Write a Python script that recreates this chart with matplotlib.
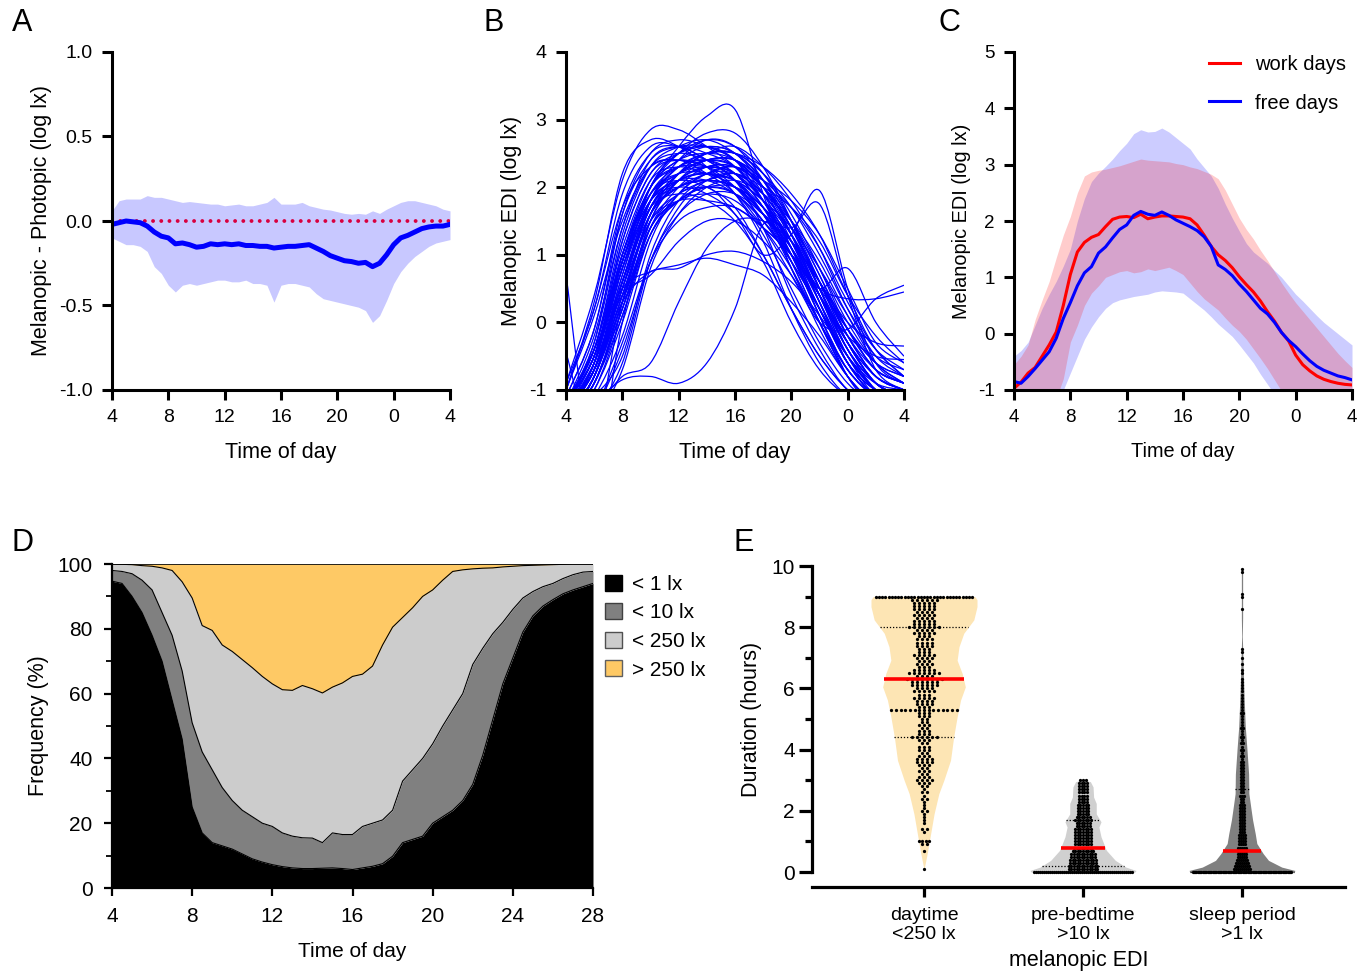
import numpy as np
import matplotlib
matplotlib.use('Agg')
import matplotlib.pyplot as plt
from matplotlib.path import Path
from matplotlib.patches import PathPatch, Patch
from matplotlib.lines import Line2D
from matplotlib import font_manager as fm
from matplotlib.ticker import FixedLocator


def has_font(name):
    try:
        fm.findfont(fm.FontProperties(family=name), fallback_to_default=False)
        return True
    except Exception:
        return False


MAIN = 'Liberation Sans' if has_font('Liberation Sans') else 'DejaVu Sans'
NARROW = 'Liberation Sans Narrow' if has_font('Liberation Sans Narrow') else MAIN
plt.rcParams['font.family'] = [MAIN, 'DejaVu Sans']

# ---------------- DATA ----------------
# Panel A: melanopic - photopic difference (log lx), every 30 min from 4 h to 28 h
A_mean = [-0.02, -0.01, 0.0, -0.005, -0.01, -0.03, -0.065, -0.09, -0.10, -0.135, -0.13, -0.14, -0.155,
          -0.15, -0.135, -0.14, -0.135, -0.14, -0.135, -0.145, -0.145, -0.15, -0.15, -0.16, -0.155, -0.15,
          -0.15, -0.145, -0.14, -0.16, -0.18, -0.205, -0.22, -0.235, -0.24, -0.25, -0.245, -0.27, -0.25,
          -0.2, -0.14, -0.1, -0.085, -0.065, -0.045, -0.035, -0.03, -0.03, -0.02]
A_upper = [0.06, 0.12, 0.13, 0.13, 0.13, 0.15, 0.14, 0.14, 0.13, 0.12, 0.11, 0.115, 0.11, 0.105, 0.10,
           0.10, 0.09, 0.095, 0.10, 0.09, 0.09, 0.10, 0.11, 0.14, 0.10, 0.10, 0.10, 0.11, 0.09, 0.08, 0.07,
           0.065, 0.055, 0.045, 0.04, 0.045, 0.04, 0.06, 0.045, 0.07, 0.09, 0.11, 0.12, 0.12, 0.11, 0.10,
           0.09, 0.07, 0.06]
A_lower = [-0.10, -0.12, -0.14, -0.14, -0.15, -0.18, -0.27, -0.31, -0.38, -0.42, -0.38, -0.37, -0.38,
           -0.37, -0.36, -0.35, -0.35, -0.36, -0.36, -0.35, -0.37, -0.37, -0.38, -0.48, -0.38, -0.37, -0.37,
           -0.38, -0.39, -0.43, -0.46, -0.47, -0.48, -0.49, -0.50, -0.51, -0.53, -0.60, -0.56, -0.47, -0.37,
           -0.30, -0.25, -0.21, -0.18, -0.15, -0.13, -0.12, -0.11]

# Panel B: individual profiles (log lx), knots every 2 h
B_hours = [4, 6, 8, 10, 12, 14, 16, 18, 20, 22, 24, 26, 28]
B_profiles = [
    [-1.3, -0.6, 1.2, 2.2, 2.5, 2.6, 2.5, 2.0, 1.2, 0.3, -0.6, -1.1, -1.3],
    [-1.2, -0.3, 1.6, 2.5, 2.7, 2.6, 2.4, 1.9, 1.1, 0.1, -0.7, -1.1, -1.2],
    [-1.4, -0.8, 0.6, 1.8, 2.2, 2.3, 2.2, 1.8, 1.2, 0.4, -0.4, -0.9, -1.1],
    [-0.9, 0.2, 1.9, 2.6, 2.6, 2.4, 2.1, 1.4, 0.4, -0.4, -1.0, -1.2, -1.3],
    [-1.5, -1.1, -0.5, 1.0, 1.8, 2.1, 2.1, 1.6, 0.8, -0.1, -0.8, -1.2, -1.4],
    [-1.2, -0.5, 1.0, 2.0, 2.4, 2.5, 2.4, 2.0, 1.4, 0.6, -0.2, -0.8, -1.0],
    [-1.3, -0.7, 0.8, 1.9, 2.3, 2.4, 2.3, 1.9, 1.3, 0.5, -0.3, -0.9, -1.1],
    [-1.2, -0.4, 1.3, 2.3, 2.6, 2.7, 2.5, 2.1, 1.5, 0.7, -0.1, -0.7, -0.9],
    [-1.4, -0.9, 0.3, 1.6, 2.1, 2.3, 2.3, 2.0, 1.5, 0.8, 0.0, -0.6, -0.9],
    [-1.3, -0.7, 0.5, 1.7, 2.0, 2.1, 2.0, 1.6, 1.0, 0.2, -0.6, -1.1, -1.3],
    [-1.0, 0.3, 2.2, 2.7, 2.6, 2.3, 1.9, 1.2, 0.2, -0.6, -1.1, -1.3, -1.4],
    [-1.2, -0.5, 0.9, 1.9, 2.1, 2.0, 1.7, 1.0, 0.2, -0.5, -1.0, -1.3, -1.4],
    [-1.3, -0.7, 0.7, 2.0, 2.5, 2.6, 2.4, 1.8, 1.0, 0.1, -0.8, -1.3, -1.5],
    [-1.6, -1.1, -0.2, 1.2, 1.9, 2.2, 2.2, 1.9, 1.3, 0.5, -0.3, -0.9, -1.1],
    [-1.4, -0.9, 0.2, 1.4, 1.8, 1.9, 1.8, 1.4, 0.8, 0.0, -0.7, -1.1, -1.2],
    [-1.2, -0.4, 1.1, 2.1, 2.3, 2.2, 2.1, 1.8, 1.3, 0.6, -0.1, -0.6, -0.8],
    [-1.3, -0.6, 1.0, 2.1, 2.5, 2.7, 2.6, 2.2, 1.5, 0.6, -0.3, -0.9, -1.1],
    [-1.5, -1.0, 0.0, 1.3, 1.8, 2.0, 2.0, 1.7, 1.2, 0.4, -0.4, -1.0, -1.2],
    [-1.0, 0.1, 1.5, 2.3, 2.4, 2.3, 2.1, 1.6, 0.9, 0.0, -0.8, -1.2, -1.3],
    [-1.3, -0.7, 0.6, 1.7, 2.2, 2.4, 2.4, 2.1, 1.7, 1.1, 0.3, -0.4, -0.8],
    [-1.4, -0.8, 0.4, 1.6, 2.2, 2.5, 2.5, 2.2, 1.6, 0.8, -0.1, -0.7, -0.9],
    [-1.2, -0.5, 0.9, 1.8, 2.0, 1.9, 1.6, 1.0, 0.2, -0.5, -1.0, -1.3, -1.4],
    [-1.3, -0.6, 0.8, 1.8, 2.3, 2.5, 2.5, 2.3, 1.9, 1.3, 0.4, -0.4, -0.8],
    [-1.5, -0.9, 0.2, 1.5, 2.1, 2.4, 2.4, 2.1, 1.5, 0.7, -0.2, -0.8, -1.0],
    [-1.2, -0.3, 1.4, 2.4, 2.6, 2.5, 2.3, 1.8, 1.2, 0.3, -0.5, -1.0, -1.1],
    [-1.3, -0.7, 0.5, 1.5, 1.8, 1.8, 1.7, 1.4, 1.0, 0.4, -0.3, -0.8, -1.0],
    [-1.4, -0.8, 0.4, 1.5, 1.9, 2.1, 2.2, 2.0, 1.7, 1.2, 0.4, -0.2, -0.6],
    [-1.3, -0.6, 0.9, 2.0, 2.3, 2.3, 2.2, 1.7, 1.0, 0.2, -0.6, -1.0, -1.1],
    [-1.7, -1.3, -0.4, 0.9, 1.7, 2.1, 2.2, 1.9, 1.3, 0.4, -0.5, -1.1, -1.3],
    [-1.4, -0.9, 0.1, 1.3, 1.9, 2.2, 2.3, 2.0, 1.4, 0.6, -0.2, -0.8, -1.0],
    [-1.2, -0.4, 1.2, 2.2, 2.4, 2.3, 2.0, 1.5, 0.9, 0.2, -0.5, -0.9, -1.0],
    [-1.3, -0.7, 0.6, 1.6, 2.0, 2.2, 2.3, 2.1, 1.8, 1.3, 0.5, -0.3, -0.6],
    [-1.6, -1.3, -0.6, 0.9, 1.6, 1.9, 1.9, 1.6, 1.1, 0.4, -0.3, -0.9, -1.1],
    [-1.2, -0.5, 1.0, 1.9, 2.2, 2.4, 2.4, 2.0, 1.3, 0.4, -0.5, -1.0, -1.2],
    [-1.3, -0.7, 0.7, 1.8, 2.1, 2.2, 2.1, 1.8, 1.4, 0.8, 0.1, -0.5, -0.7],
    [-1.4, -0.8, 0.3, 1.4, 1.9, 2.0, 1.9, 1.5, 0.9, 0.2, -0.5, -1.0, -1.2],
    [-1.1, -0.1, 1.7, 2.5, 2.6, 2.4, 2.1, 1.6, 1.1, 0.4, -0.3, -0.8, -1.0],
    [-1.3, -0.6, 0.8, 1.7, 1.9, 1.8, 1.5, 0.9, 0.0, -0.7, -1.1, -1.3, -1.4],
    [-1.4, -0.8, 0.5, 1.8, 2.4, 2.7, 2.6, 2.1, 1.3, 0.3, -0.6, -1.1, -1.3],
    [-1.7, -1.3, -0.3, 0.9, 1.5, 1.7, 1.7, 1.4, 1.0, 0.5, -0.1, -0.6, -0.8],
    [-1.2, -0.5, 1.0, 2.0, 2.6, 3.05, 3.15, 1.9, 0.8, 0.0, -0.8, -1.2, -1.4],
    [-0.9, 0.4, 2.1, 2.85, 2.85, 2.6, 2.3, 1.8, 1.1, 0.2, -0.6, -1.0, -1.1],
    [-1.3, -0.6, 0.9, 2.0, 2.5, 2.8, 2.8, 2.3, 1.5, 0.5, -0.4, -0.9, -1.1],
    [0.7, -2.0, 0.0, 1.5, 2.1, 2.3, 2.2, 1.8, 1.1, 0.3, -0.5, -1.0, -1.2],
    [-1.6, -1.2, -0.85, -0.8, -0.9, -0.6, 0.2, 1.45, 1.2, 0.4, -0.4, -0.9, -1.1],
    [-1.7, -1.3, -0.8, -0.6, 0.3, 1.1, 1.5, 1.5, 1.2, 0.6, -0.1, -0.7, -0.9],
    [-1.3, -0.7, 0.3, 0.75, 0.8, 1.0, 1.05, 0.9, 0.6, 0.1, -0.5, -1.0, -1.2],
    [-1.2, -0.4, 0.5, 0.75, 0.85, 0.95, 0.85, 0.7, 0.3, -0.2, -0.8, -1.2, -1.3],
    [-1.4, -0.8, 0.3, 1.4, 1.8, 2.0, 1.6, 1.0, 1.3, 1.95, 0.5, -0.6, -0.9],
    [-1.3, -0.7, 0.6, 1.7, 2.1, 2.2, 2.0, 1.6, 1.4, 1.75, 0.4, -0.7, -1.0],
    [-1.3, -0.6, 0.8, 1.9, 2.2, 2.2, 2.0, 1.6, 1.0, 0.5, 0.8, 0.0, -0.5],
    [-1.4, -0.9, 0.2, 1.3, 1.8, 2.0, 1.9, 1.4, 0.7, 0.0, -0.1, 0.35, 0.55],
    [-1.2, -0.5, 0.9, 1.8, 2.1, 2.1, 1.9, 1.5, 1.0, 0.5, 0.35, 0.35, 0.45],
    [-1.3, -0.7, 0.6, 1.7, 2.1, 2.2, 2.1, 1.7, 1.2, 0.6, 0.0, -0.3, -0.35],
    [-1.4, -0.8, 0.4, 1.6, 2.0, 2.1, 2.0, 1.7, 1.1, 0.4, -0.2, -0.5, -0.55],
    [-1.3, -0.6, 0.4, 0.7, 1.2, 1.5, 1.5, 1.2, 0.7, 0.0, -0.7, -1.1, -1.2],
    [-0.45, -1.6, 0.3, 1.6, 2.0, 2.1, 2.0, 1.6, 1.0, 0.2, -0.6, -1.1, -1.2],
    [-1.2, -0.2, 1.4, 2.3, 2.5, 2.4, 2.2, 1.7, 0.9, 0.0, -0.8, -1.2, -1.3],
    [-1.4, -0.9, 0.3, 1.6, 2.2, 2.5, 2.6, 2.3, 1.8, 1.1, 0.2, -0.5, -0.8],
    [-1.3, -0.5, 0.9, 2.0, 2.4, 2.6, 2.5, 2.1, 1.4, 0.5, -0.4, -1.0, -1.2],
    [-1.5, -1.0, 0.1, 1.4, 2.0, 2.3, 2.3, 2.0, 1.4, 0.6, -0.3, -0.9, -1.1],
    [-1.1, -0.1, 1.6, 2.4, 2.6, 2.6, 2.4, 2.0, 1.4, 0.6, -0.2, -0.7, -0.9],
    [-1.3, -0.7, 0.5, 1.7, 2.2, 2.4, 2.3, 1.8, 1.1, 0.2, -0.6, -1.0, -1.2],
    [-1.2, -0.4, 1.0, 2.0, 2.3, 2.5, 2.5, 2.2, 1.7, 1.0, 0.2, -0.4, -0.7],
    [-1.4, -0.8, 0.6, 1.8, 2.3, 2.4, 2.2, 1.7, 1.0, 0.1, -0.7, -1.1, -1.3],
    [-1.0, 0.2, 1.7, 2.3, 2.4, 2.2, 1.9, 1.3, 0.5, -0.3, -0.9, -1.2, -1.3],
    [-1.7, -1.4, -0.7, 0.8, 1.6, 2.0, 2.1, 1.9, 1.5, 0.9, 0.1, -0.6, -0.9],
]

# Panel C: work days vs free days (log lx), every 30 min from 4 h to 28 h
C_work_mean = [-0.97, -0.86, -0.70, -0.60, -0.40, -0.20, 0.03, 0.50, 1.05, 1.45, 1.62, 1.71, 1.76, 1.90,
               2.03, 2.07, 2.08, 2.06, 2.12, 2.04, 2.07, 2.09, 2.09, 2.08, 2.07, 2.04, 1.93, 1.75, 1.55,
               1.40, 1.30, 1.17, 1.01, 0.87, 0.74, 0.58, 0.39, 0.22, 0.02, -0.13, -0.38, -0.55, -0.66,
               -0.75, -0.81, -0.85, -0.88, -0.90, -0.91]
C_free_mean = [-0.85, -0.88, -0.76, -0.62, -0.47, -0.32, -0.08, 0.27, 0.55, 0.85, 1.08, 1.19, 1.43, 1.54,
               1.70, 1.85, 1.93, 2.10, 2.17, 2.12, 2.10, 2.16, 2.10, 2.02, 1.96, 1.90, 1.83, 1.72, 1.55,
               1.22, 1.14, 1.03, 0.88, 0.75, 0.60, 0.45, 0.35, 0.20, 0.02, -0.12, -0.23, -0.36, -0.48,
               -0.58, -0.65, -0.70, -0.75, -0.78, -0.82]
C_work_upper = [-0.55, -0.40, -0.20, 0.25, 0.60, 0.93, 1.35, 1.75, 2.08, 2.50, 2.80, 2.87, 2.90, 2.92,
                2.95, 2.98, 3.02, 3.06, 3.10, 3.08, 3.07, 3.06, 3.05, 3.02, 3.00, 2.96, 2.93, 2.88, 2.83,
                2.75, 2.55, 2.30, 2.05, 1.85, 1.68, 1.48, 1.30, 1.10, 0.90, 0.72, 0.55, 0.40, 0.25, 0.10,
                -0.05, -0.20, -0.35, -0.48, -0.60]
C_work_lower = [-1.6, -1.55, -1.5, -1.45, -1.4, -1.3, -1.15, -0.8, -0.15, 0.15, 0.50, 0.72, 0.85, 1.00,
                1.05, 1.10, 1.12, 1.08, 1.10, 1.15, 1.12, 1.15, 1.18, 1.12, 1.05, 0.90, 0.75, 0.62, 0.52,
                0.42, 0.28, 0.15, 0.04, -0.10, -0.27, -0.44, -0.62, -0.82, -1.02, -1.2, -1.35, -1.45,
                -1.5, -1.5, -1.5, -1.55, -1.55, -1.6, -1.6]
C_free_upper = [-0.40, -0.30, -0.15, 0.15, 0.45, 0.70, 0.93, 1.20, 1.50, 2.00, 2.40, 2.70, 2.85, 2.97,
                3.10, 3.25, 3.38, 3.55, 3.62, 3.58, 3.59, 3.65, 3.58, 3.48, 3.38, 3.28, 3.10, 2.95, 2.80,
                2.58, 2.30, 2.05, 1.82, 1.60, 1.45, 1.35, 1.25, 1.12, 1.00, 0.85, 0.70, 0.58, 0.45, 0.32,
                0.20, 0.10, 0.00, -0.10, -0.20]
C_free_lower = [-1.8, -1.8, -1.75, -1.7, -1.6, -1.5, -1.3, -1.0, -0.7, -0.4, -0.1, 0.12, 0.30, 0.45,
                0.55, 0.60, 0.63, 0.66, 0.68, 0.70, 0.74, 0.76, 0.75, 0.74, 0.72, 0.62, 0.52, 0.42, 0.30,
                0.17, 0.06, -0.05, -0.20, -0.36, -0.52, -0.72, -0.90, -1.08, -1.25, -1.35, -1.45, -1.5,
                -1.55, -1.6, -1.6, -1.65, -1.65, -1.7, -1.7]

# Panel D: cumulative frequency (%) of light levels, every 30 min from 4 h to 28 h
D_lt1 = [94.7, 94, 90, 85, 78, 70, 58, 46, 25, 17, 14, 13, 12, 10.5, 9, 8, 7.2, 6.6, 6.2, 6.0, 6.0, 6.1,
         6.2, 6.0, 5.7, 6.2, 6.7, 7.5, 9.8, 14, 15, 16, 20, 22, 24, 27, 32, 41, 52, 63, 71, 79, 84, 87, 89,
         90.8, 92, 93, 94]
D_lt10 = [98, 97.7, 97, 95, 92, 85, 78, 67, 51, 42, 36.5, 31, 27, 24, 22, 20, 19, 17, 16, 15.5, 15.4, 14,
          17, 16.5, 16.5, 19, 20, 21, 24, 33, 36.5, 40, 44.5, 50, 55, 60, 69, 74, 78.5, 82, 86, 89.5, 91.5,
          93, 94, 95.5, 96.7, 97.5, 97.7]
D_lt250 = [100, 99.9, 99.8, 99.5, 99.3, 98.8, 98, 94.5, 89.5, 81, 79.5, 75, 73, 70.5, 68, 65.3, 63, 61.2,
           61, 62.5, 61.5, 60.2, 62, 63.3, 65.3, 66, 68.5, 75, 80.5, 83.5, 86.5, 90, 92, 95, 97.7, 98.2,
           98.5, 98.7, 98.8, 99.1, 99.3, 99.5, 99.6, 99.7, 99.8, 99.9, 100, 100, 100]
D_labels = ['< 1 lx', '< 10 lx', '< 250 lx', '> 250 lx']

# Panel E: durations (h); number of participants at each 0.1-h level
E_categories = ['daytime\n<250 lx', 'pre-bedtime\n>10 lx', 'sleep period\n>1 lx']
E_day_counts = [0, 1, 0, 0, 0, 0, 0, 1, 0, 2,
                4, 0, 0, 1, 2, 0, 1, 1, 1, 1,
                2, 1, 1, 1, 2, 1, 2, 1, 2, 3,
                4, 3, 2, 3, 2, 3, 4, 4, 3, 2,
                3, 3, 2, 3, 6, 3, 3, 2, 3, 2,
                2, 3, 3, 15, 3, 4, 4, 5, 3, 5,
                4, 6, 6, 8, 4, 7, 5, 3, 4, 3,
                4, 5, 3, 3, 4, 4, 4, 3, 5, 4,
                7, 5, 5, 4, 5, 4, 5, 5, 5, 6,
                31]
E_pre_counts = [50, 12, 12, 11, 11, 10, 10, 9, 8, 7,
                7, 7, 7, 7, 7, 6, 6, 7, 6, 5,
                5, 5, 5, 4, 4, 4, 4, 4, 4, 4,
                3]
E_sleep_counts = [80, 9, 8, 7, 6, 5, 5, 5, 5, 4,
                  4, 4, 4, 3, 3, 3, 3, 3, 3, 3,
                  3, 3, 3, 2, 2, 3, 2, 2, 2, 2,
                  2, 2, 2, 2, 2, 2, 2, 1, 2, 1,
                  2, 1, 2, 1, 2, 1, 1, 2, 1, 1,
                  1, 1, 2, 1, 1, 1, 1, 1, 1, 1,
                  1, 1, 1, 1, 0, 1, 1, 0, 1, 0,
                  1, 0, 1, 1, 0, 0, 0, 0, 0, 0,
                  0, 0, 0, 0, 0, 0, 1, 0, 0, 0,
                  1, 1, 0, 0, 0, 0, 0, 0, 1, 1,
                  0]
# violin outlines: level (h) and relative half-width
E_day_prof_y = [0.08, 0.6, 1.25, 1.9, 2.56, 3.0, 3.65, 4.42, 5.07, 5.62, 6.05, 6.49, 6.92, 7.36, 7.8,
                8.24, 8.67, 8.9, 9.0]
E_day_prof_w = [0.0, 0.06, 0.125, 0.19, 0.28, 0.375, 0.5, 0.56, 0.625, 0.69, 0.78, 0.72, 0.625, 0.66,
                0.75, 0.94, 1.0, 1.0, 0.96]
E_pre_prof_y = [0.0, 0.05, 0.16, 0.38, 0.71, 1.15, 1.47, 1.64, 1.9, 2.24, 2.45, 2.78, 2.95, 3.03]
E_pre_prof_w = [0.98, 1.0, 0.81, 0.61, 0.44, 0.34, 0.30, 0.34, 0.25, 0.25, 0.20, 0.19, 0.14, 0.0]
E_sleep_prof_y = [0.0, 0.05, 0.16, 0.38, 0.6, 0.93, 1.25, 1.7, 2.0, 2.56, 3.2, 4.0, 4.75, 5.8, 6.9, 7.7,
                  8.3, 9.9, 9.95]
E_sleep_prof_w = [0.98, 1.0, 0.75, 0.5, 0.40, 0.28, 0.25, 0.2, 0.175, 0.13, 0.125, 0.094, 0.062, 0.038,
                  0.019, 0.006, 0.012, 0.012, 0.0]

# ---------------- FIGURE ----------------
W, H = 1358, 980
fig = plt.figure(figsize=(W / 100, H / 100), dpi=100)


def ax_px(x1, y1, x2, y2):
    return fig.add_axes([x1 / W, 1 - y2 / H, (x2 - x1) / W, (y2 - y1) / H])


def style(ax, lw=2.2, size=14, length=7, pad=7, family=None):
    for s in ['top', 'right']:
        ax.spines[s].set_visible(False)
    for s in ['left', 'bottom']:
        ax.spines[s].set_linewidth(lw)
        ax.spines[s].set_capstyle('projecting')
    kw = dict(direction='out', length=length, width=lw, labelsize=size, pad=pad, color='black')
    if family:
        kw['labelfontfamily'] = family
    ax.tick_params(which='major', **kw)


def grid_t(arr):
    return np.linspace(4, 28, len(arr))


hour_ticks = [4, 8, 12, 16, 20, 24, 28]
hour_lbls = ['4', '8', '12', '16', '20', '0', '4']

# ---- Panel A ----
axA = ax_px(112, 52, 450, 390)
axA.fill_between(grid_t(A_upper), A_lower, A_upper, color='#c8c8ff', lw=0)
axA.plot([4, 28], [0, 0], color='#d8003f', lw=2.8, linestyle=(0, (0.01, 2.1)), dash_capstyle='round')
axA.plot(grid_t(A_mean), A_mean, color='#0000ff', lw=3.6, solid_joinstyle='round')
axA.set_xlim(4, 28)
axA.set_ylim(-1, 1)
axA.set_xticks(hour_ticks, hour_lbls)
axA.set_yticks([-1, -0.5, 0, 0.5, 1], ['-1.0', '-0.5', '0.0', '0.5', '1.0'])
style(axA)
axA.set_xlabel('Time of day', fontsize=15.5, labelpad=11)
axA.set_ylabel('Melanopic - Photopic (log lx)', fontsize=15.5, labelpad=5)


# ---- Panel B ----
def smooth_path(x, y):
    P = np.column_stack([np.asarray(x, float), np.asarray(y, float)])
    Pm = np.vstack([P[0], P, P[-1]])
    verts = [P[0]]
    codes = [Path.MOVETO]
    for i in range(len(P) - 1):
        p0, p1, p2, p3 = Pm[i], Pm[i + 1], Pm[i + 2], Pm[i + 3]
        verts += [p1 + (p2 - p0) / 6.0, p2 - (p3 - p1) / 6.0, p2]
        codes += [Path.CURVE4] * 3
    return Path(verts, codes)


axB = ax_px(566, 52, 904, 390)
for prof in B_profiles:
    axB.add_patch(PathPatch(smooth_path(B_hours, prof), fill=False, edgecolor='#0000ff', lw=0.9))
axB.set_xlim(4, 28)
axB.set_ylim(-1, 4)
axB.set_xticks(hour_ticks, hour_lbls)
axB.set_yticks([-1, 0, 1, 2, 3, 4], ['-1', '0', '1', '2', '3', '4'])
style(axB)
axB.set_xlabel('Time of day', fontsize=15.5, labelpad=11)
axB.set_ylabel('Melanopic EDI (log lx)', fontsize=15.5, labelpad=5)

# ---- Panel C ----
axC = ax_px(1014, 52, 1352, 390)
axC.fill_between(grid_t(C_free_upper), C_free_lower, C_free_upper, color=(0, 0, 1, 0.2), lw=0)
axC.fill_between(grid_t(C_work_upper), C_work_lower, C_work_upper, color=(1, 0, 0, 0.2), lw=0)
axC.plot(grid_t(C_work_mean), C_work_mean, color='#ff0000', lw=2.2)
axC.plot(grid_t(C_free_mean), C_free_mean, color='#0000ff', lw=2.2)
axC.set_xlim(4, 28)
axC.set_ylim(-1, 5)
axC.set_xticks(hour_ticks, hour_lbls)
axC.set_yticks([-1, 0, 1, 2, 3, 4, 5], ['-1', '0', '1', '2', '3', '4', '5'])
style(axC, size=13.5)
axC.set_xlabel('Time of day', fontsize=14.3, labelpad=11)
axC.set_ylabel('Melanopic EDI (log lx)', fontsize=14.3, labelpad=5)
axC.legend([Line2D([], [], color='#ff0000', lw=2.2), Line2D([], [], color='#0000ff', lw=2.2)],
           ['work days', 'free days'], loc='upper left', bbox_to_anchor=(0.578, 0.99),
           frameon=False, fontsize=14.5, handlelength=1.5, handletextpad=0.75, labelspacing=0.95,
           borderpad=0, borderaxespad=0)

# ---- Panel D ----
axD = ax_px(112, 564, 593, 888)
tD = grid_t(D_lt1)
cols = ['#000000', '#808080', '#cccccc', '#fec965']
axD.fill_between(tD, 0, D_lt1, color=cols[0], lw=0)
axD.fill_between(tD, D_lt1, D_lt10, color=cols[1], lw=0)
axD.fill_between(tD, D_lt10, D_lt250, color=cols[2], lw=0)
axD.fill_between(tD, D_lt250, 100, color=cols[3], lw=0)
for arr in (D_lt1, D_lt10, D_lt250):
    axD.plot(tD, arr, color='black', lw=0.8)
axD.plot([4, 28], [100, 100], color='black', lw=1.2)
axD.set_xlim(4, 28)
axD.set_ylim(0, 100)
axD.set_xticks(hour_ticks, ['4', '8', '12', '16', '20', '24', '28'])
axD.set_yticks([0, 20, 40, 60, 80, 100])
axD.yaxis.set_minor_locator(FixedLocator([10, 30, 50, 70, 90]))
style(axD, lw=1.6, size=15, length=6, pad=8, family=NARROW)
axD.tick_params(which='minor', direction='out', length=4, width=1.3)
axD.set_xlabel('Time of day', fontsize=15, family=NARROW, labelpad=11)
axD.set_ylabel('Frequency (%)', fontsize=15.5, labelpad=6)
edgec = ['#000000', '#404040', '#505050', '#606060']
handles = [Patch(facecolor=c, edgecolor=e, lw=1.0) for c, e in zip(cols, edgec)]
axD.legend(handles, D_labels, loc='upper left', bbox_to_anchor=(1.025, 0.967), frameon=False,
           handlelength=0.8, handleheight=0.8, handletextpad=0.5, labelspacing=0.45,
           borderpad=0, borderaxespad=0, prop={'family': NARROW, 'size': 15})

# ---- Panel E ----
axE = ax_px(812, 566, 1345, 872)
PX = 1.0 / 159.0  # data units per pixel (category spacing 159 px)
VMAX = 53 * PX
fills = ['#fde5b4', '#d0d0d0', '#808080']
groups = [(E_day_counts, E_day_prof_y, E_day_prof_w, 5.0),
          (E_pre_counts, E_pre_prof_y, E_pre_prof_w, 2.6),
          (E_sleep_counts, E_sleep_prof_y, E_sleep_prof_w, 1.9)]
for gi, (counts, py, pw, sp) in enumerate(groups):
    py = np.asarray(py)
    pw = np.asarray(pw) * VMAX
    axE.fill_betweenx(py, gi - pw, gi + pw, color=fills[gi], lw=0, zorder=1, clip_on=False)
    levels = np.round(np.arange(len(counts)) * 0.1, 1)
    values = np.repeat(levels, counts)
    xs, ys = [], []
    for lev, n in zip(levels, counts):
        if n == 0:
            continue
        lim = 0.95 * max(np.interp(lev, py, pw), 1.5 * PX)
        hw = min((n - 1) / 2.0 * sp * PX, lim)
        xs.extend(gi + np.linspace(-hw, hw, n))
        ys.extend([lev] * n)
    axE.scatter(xs, ys, s=5.5, color='black', lw=0, zorder=3, clip_on=False)
    q1, med, q3 = np.percentile(values, [25, 50, 75])
    for q in (q1, q3):
        w = np.interp(q, py, pw)
        axE.plot([gi - w, gi + w], [q, q], color='black', lw=0.9, linestyle=(0, (1, 1.5)), zorder=2,
                 clip_on=False)
    w = np.interp(med, py, pw)
    axE.plot([gi - w, gi + w], [med, med], color='#ff0000', lw=2.6, zorder=4, solid_capstyle='butt',
             clip_on=False)
axE.set_xlim((812 - 924) * PX, (1345 - 924) * PX)
axE.set_ylim(0, 10)
axE.set_xticks([0, 1, 2], E_categories)
axE.set_yticks([0, 2, 4, 6, 8, 10])
axE.yaxis.set_minor_locator(FixedLocator([1, 3, 5, 7, 9]))
style(axE, lw=2.3, size=15, length=9.5, pad=3)
axE.tick_params(axis='x', labelsize=14, pad=7, length=7.5)
axE.tick_params(which='minor', direction='out', length=5, width=2.3)
axE.spines['bottom'].set_position(('outward', 11))
for lbl in axE.get_xticklabels():
    lbl.set_linespacing(1.15)
axE.set_xlabel('melanopic EDI', fontsize=15.5, labelpad=5)
axE.set_ylabel('Duration (hours)', fontsize=15.5, labelpad=7)

# ---- panel letters ----
for letter, x, y in [('A', 12, 8), ('B', 484, 8), ('C', 938, 8), ('D', 12, 528), ('E', 734, 528)]:
    fig.text(x / W, 1 - y / H, letter, fontsize=22, ha='left', va='top')

fig.savefig('out.png', dpi=100)
